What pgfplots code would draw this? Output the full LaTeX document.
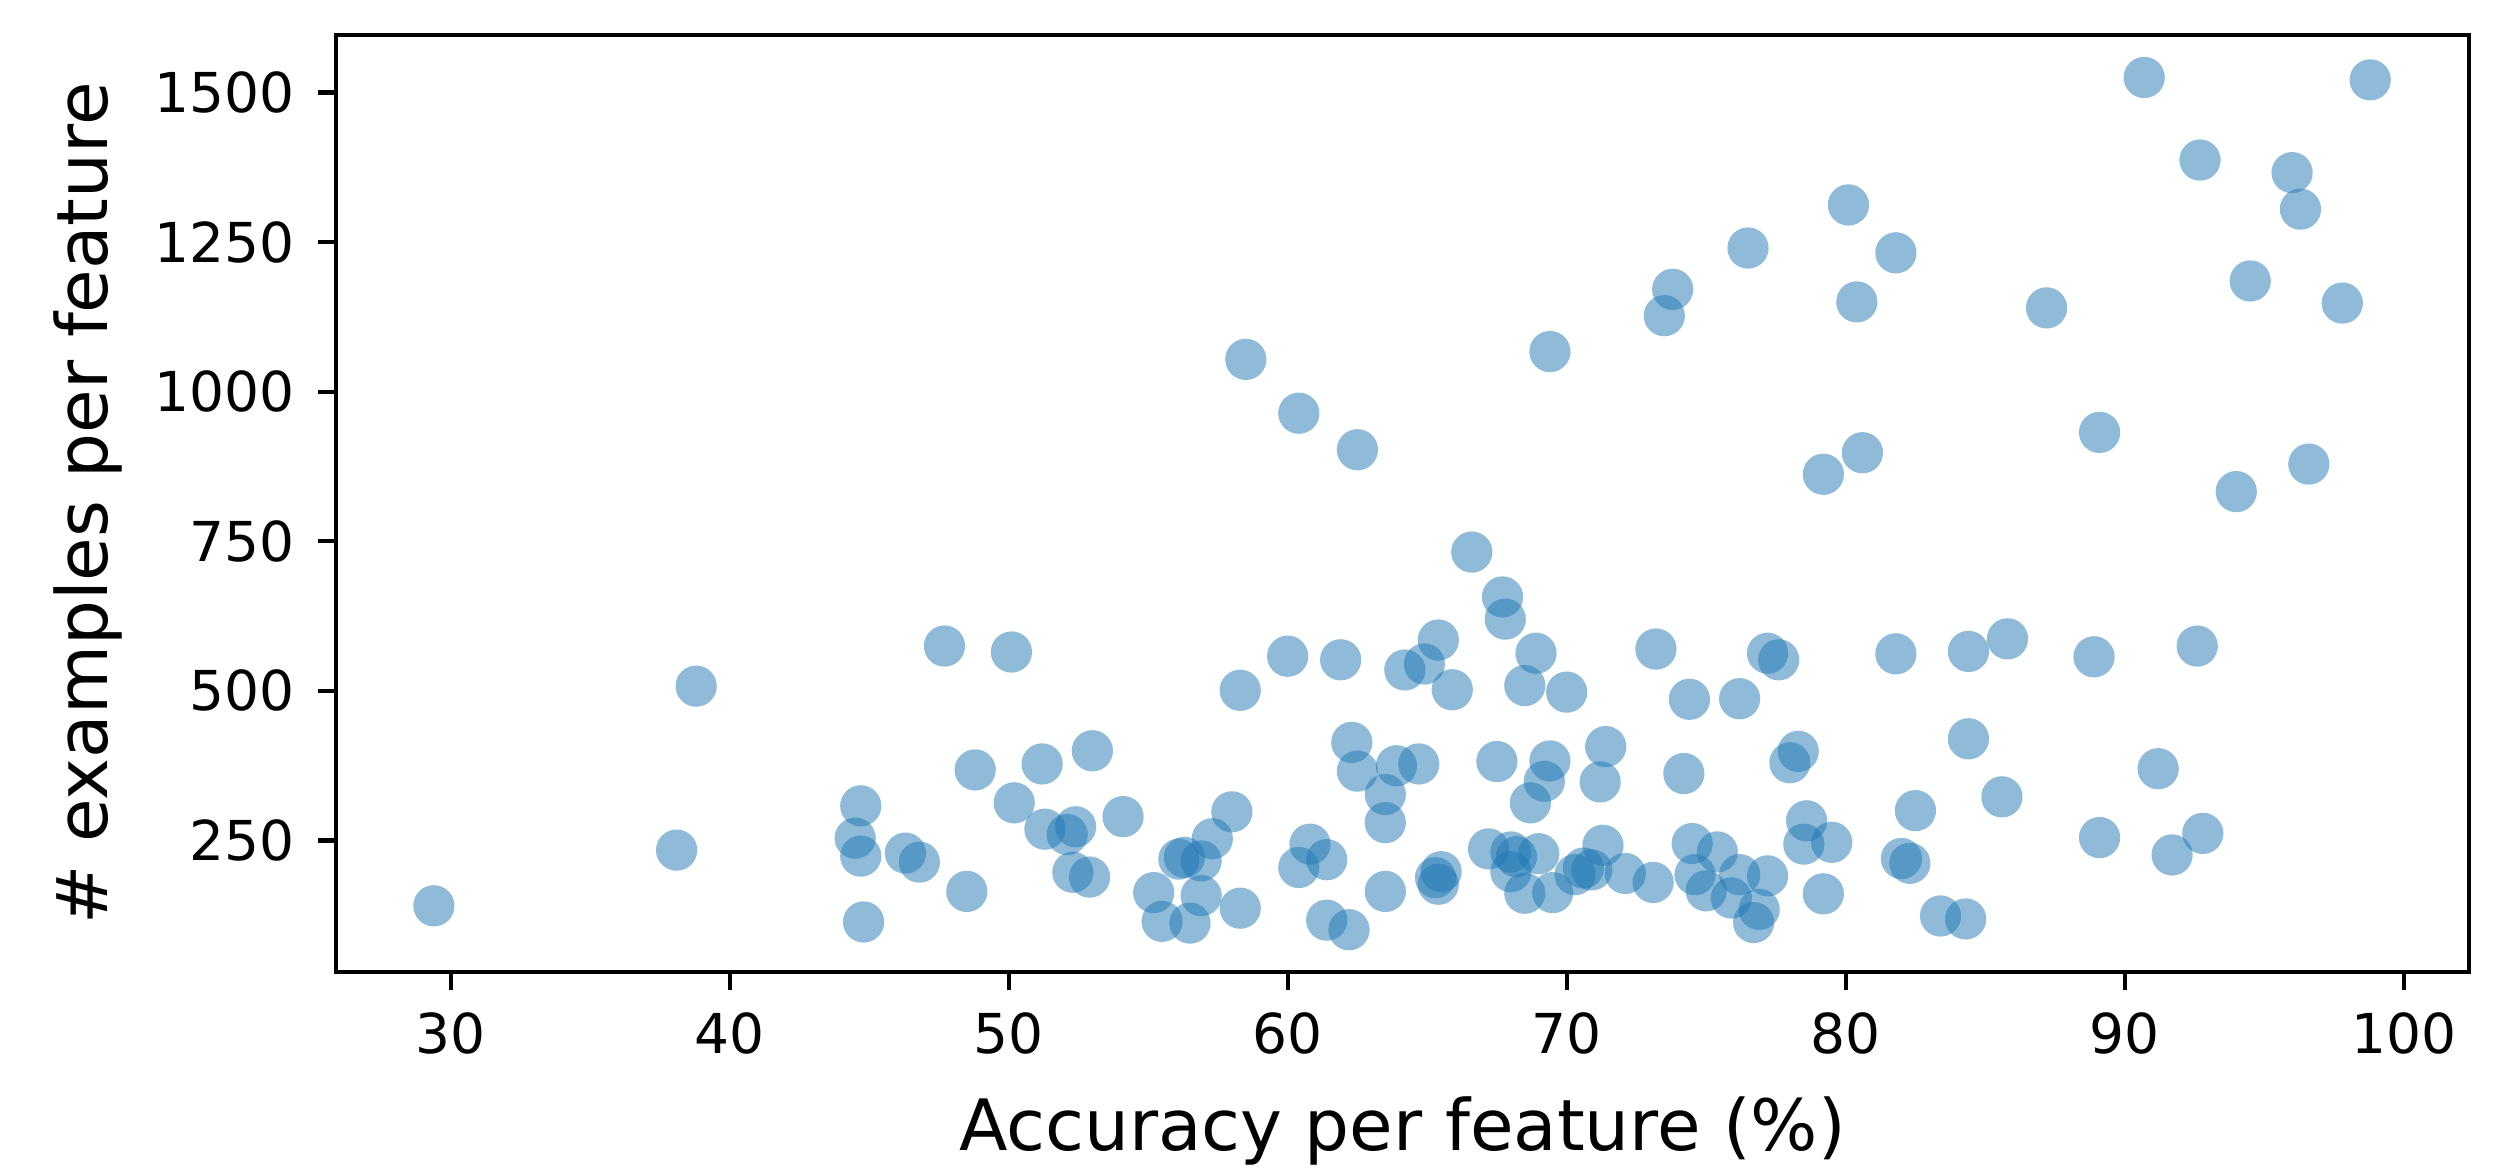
\documentclass[border=0pt]{standalone}
\usepackage{fontspec}
\setmainfont{DejaVu Sans}
\usepackage{pgfplots}
\pgfplotsset{compat=1.18}
\usepackage{pgfplotstable}
\definecolor{mplblue}{HTML}{1F77B4}

% accuracy (%) vs. number of examples, one row per feature
\pgfplotstableread{
acc   n
29.4  141
38.1  234
38.8  508
44.7  308
44.5  254
44.7  224
46.3  229
46.8  214
48.5  165
44.8  114
47.7  575
50.1  565
48.8  368
51.2  378
50.2  313
51.3  269
52.4  273
52.1  260
52.3  197
52.9  189
53.0  400
54.1  290
58.3  501
60.0  558
61.9  552
65.4  585
64.9  545
64.2  535
65.9  502
66.6  732
67.7  657
67.8  620
68.9  563
68.5  509
70.0  498
73.2  570
74.4  486
76.2  487
77.2  563
77.6  552
62.3  414
62.5  366
63.9  375
64.7  378
63.5  327
63.5  280
67.5  382
69.4  383
69.2  349
68.7  313
71.4  407
71.2  348
74.2  362
58.0  298
57.3  253
56.1  219
56.3  222
56.9  216
55.2  163
55.5  115
56.5  112
56.9  158
58.3  137
60.8  244
61.4  218
60.4  205
61.4  117
62.2  101
63.5  165
65.5  198
65.3  188
65.4  177
67.2  236
68.0  231
68.2  223
69.0  228
68.0  198
68.5  162
69.5  163
70.3  193
70.9  201
70.6  204
71.3  242
72.1  195
73.1  180
74.5  245
75.4  231
74.6  193
75.0  166
75.9  154
76.2  193
77.2  191
76.7  113
76.9  135
81.8  562
84.4  566
85.8  587
88.9  557
92.6  575
78.3  399
78.0  380
84.4  420
91.2  370
85.6  323
82.5  300
78.6  283
78.5  244
79.5  247
82.0  220
82.3  212
79.2  161
83.4  124
84.3  119
89.1  255
91.7  226
92.8  262
58.5  1054
60.4  964
62.5  903
69.4  1067
73.8  1171
73.5  1127
76.5  1240
90.7  1525
98.8  1521
92.7  1387
96.0  1366
96.3  1305
80.1  1312
81.8  1232
80.4  1150
87.2  1140
94.5  1185
97.8  1148
89.1  932
80.6  898
79.2  862
96.6  879
94.0  833
}\feat

\begin{document}
\begin{tikzpicture}
\begin{axis}[
  scale only axis,
  width=511.8pt, height=224.8pt,
  xmin=25.9, xmax=102.33,
  ymin=31, ymax=1596,
  xtick={30,40,...,100},
  ytick={250,500,...,1500},
  tick pos=left,
  tick align=outside,
  major tick length=4.4pt,
  axis line style={line width=1pt},
  every tick/.style={black, line width=1pt},
  scaled ticks=false,
  /pgf/number format/1000 sep={},
  /pgf/number format/assume math mode=true,
  tick label style={font=\fontsize{13.2}{15}\selectfont},
  xticklabel shift=2pt,
  yticklabel shift=2pt,
  label style={font=\fontsize{17}{20}\selectfont},
  xlabel={Accuracy per feature (\%)},
  ylabel={\# examples per feature},
  xlabel style={at={(axis description cs:0.5,-0.1906)}, anchor=base},
  ylabel style={at={(axis description cs:-0.1075,0.5)}, anchor=base, rotate=0},
]
\addplot[only marks, mark=*, mark size=4.95pt,
  mark options={draw opacity=0, line width=0pt, fill=mplblue, fill opacity=0.5}]
  table[x=acc, y=n] {\feat};
\end{axis}
\pgfresetboundingbox
\path ([xshift=-80.7pt,yshift=-46.9pt]current axis.south west)
  rectangle ([xshift=11.6pt,yshift=8.4pt]current axis.north east);
\end{tikzpicture}
\end{document}
